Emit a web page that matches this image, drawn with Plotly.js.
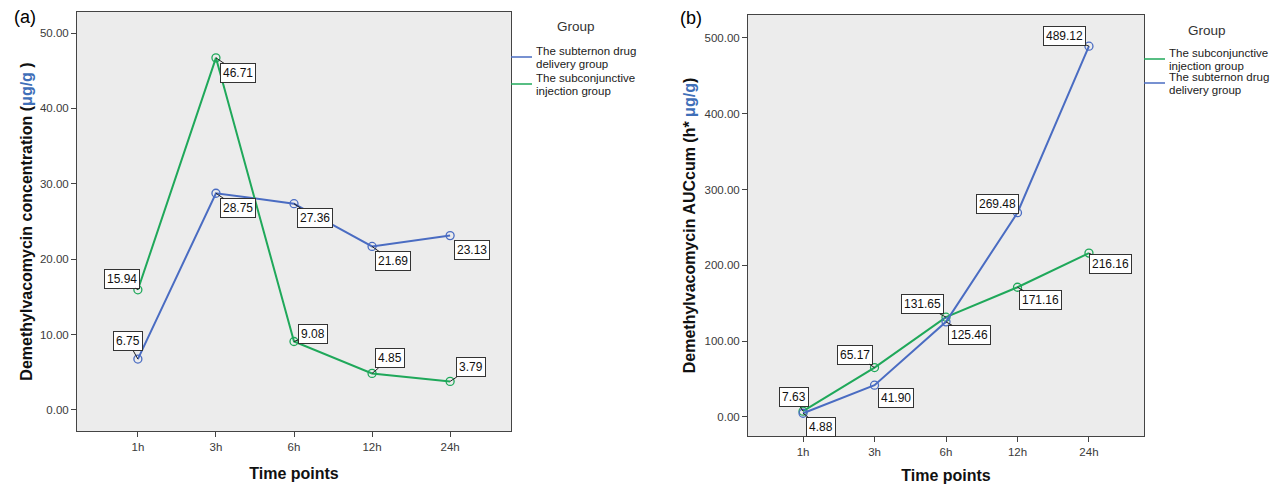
<!DOCTYPE html>
<html>
<head>
<meta charset="utf-8">
<script src="https://cdn.plot.ly/plotly-3.0.1.min.js"></script>
<style>html,body{margin:0;padding:0;background:#fff;}#chart{width:1275px;height:484px;}</style>
</head>
<body>
<div id="chart"></div>
<script>
// ---- data ----
const timePoints = ["1h", "3h", "6h", "12h", "24h"];
const concSubternon = [6.75, 28.75, 27.36, 21.69, 23.13];
const concSubconj = [15.94, 46.71, 9.08, 4.85, 3.79];
const aucSubconj = [7.63, 65.17, 131.65, 171.16, 216.16];
const aucSubternon = [4.88, 41.90, 125.46, 269.48, 489.12];
const yTicksA = [0, 10, 20, 30, 40, 50];
const yTicksB = [0, 100, 200, 300, 400, 500];
const nameSubternon = ["The subternon drug", "delivery group"];
const nameSubconj = ["The subconjunctive", "injection group"];

// label offsets (px) for annotations
const offConcSubternon = [[-10,-18],[22,15],[21,14],[21,15],[22,14]];
const offConcSubconj = [[-16,-11],[22,15],[19,-8],[18,-15],[21,-14]];
const offAucSubconj = [[-9,-14],[-20,-13],[-24,-13],[23,13],[22,11]];
const offAucSubternon = [[18,14],[21,13],[23,13],[-20,-9],[-24,-10]];

const BLUE = "#4a6cc2";
const GREEN = "#1fa85a";
const FONT = "Liberation Sans, Arial, sans-serif";
const W = 1275, H = 484;
const px = x => x / W;
const py = y => 1 - y / H;

function trace(y, color, xa, ya) {
  return {
    x: timePoints, y: y, xaxis: xa, yaxis: ya, type: "scatter", mode: "lines+markers",
    line: {color: color, width: 2},
    marker: {symbol: "circle-open", size: 8, color: color, line: {width: 1.3, color: color}},
    showlegend: false, hoverinfo: "x+y"
  };
}

const data = [
  trace(concSubternon, BLUE, "x", "y"),
  trace(concSubconj, GREEN, "x", "y"),
  trace(aucSubconj, GREEN, "x2", "y2"),
  trace(aucSubternon, BLUE, "x2", "y2")
];

const annotations = [];
function labels(vals, offs, xa, ya) {
  vals.forEach((v, i) => {
    annotations.push({
      x: timePoints[i], y: v, xref: xa, yref: ya,
      text: v.toFixed(2), showarrow: true, arrowhead: 0, arrowwidth: 1, arrowcolor: "#222",
      ax: offs[i][0], ay: offs[i][1], standoff: 0,
      font: {family: FONT, size: 12, color: "#111"},
      bgcolor: "#ffffff", bordercolor: "#333", borderwidth: 1, borderpad: 2
    });
  });
}
labels(concSubternon, offConcSubternon, "x", "y");
labels(concSubconj, offConcSubconj, "x", "y");
labels(aucSubconj, offAucSubconj, "x2", "y2");
labels(aucSubternon, offAucSubternon, "x2", "y2");

function paperText(x, y, text, size, opts) {
  annotations.push(Object.assign({
    x: px(x), y: py(y), xref: "paper", yref: "paper", text: text, showarrow: false,
    font: {family: FONT, size: size, color: "#1a1a1a"}, xanchor: "left", yanchor: "middle", align: "left"
  }, opts || {}));
}
function legendItem(x, yTop, lines) {
  paperText(x, yTop, lines[0], 11.5);
  paperText(x, yTop + 13, lines[1], 11.5);
}
// panel labels
paperText(12, 17, "(a)", 18, {font: {family: FONT, size: 18, color: "#000"}});
paperText(678, 18, "(b)", 18, {font: {family: FONT, size: 18, color: "#000"}});
// legends
paperText(576, 27, "Group", 13.5, {xanchor: "center", font: {family: FONT, size: 13.5, color: "#333"}});
legendItem(534, 51, nameSubternon);
legendItem(534, 78, nameSubconj);
paperText(1207, 31, "Group", 13.5, {xanchor: "center", font: {family: FONT, size: 13.5, color: "#333"}});
legendItem(1167, 53, nameSubconj);
legendItem(1167, 77, nameSubternon);

const shapes = [
  {type: "line", xref: "paper", yref: "paper", x0: px(511), x1: px(532), y0: py(57), y1: py(57), line: {color: BLUE, width: 1.5}},
  {type: "line", xref: "paper", yref: "paper", x0: px(511), x1: px(532), y0: py(84), y1: py(84), line: {color: GREEN, width: 1.5}},
  {type: "line", xref: "paper", yref: "paper", x0: px(1144), x1: px(1165), y0: py(59), y1: py(59), line: {color: GREEN, width: 1.5}},
  {type: "line", xref: "paper", yref: "paper", x0: px(1144), x1: px(1165), y0: py(83), y1: py(83), line: {color: BLUE, width: 1.5}}
];

const tickFont = {family: FONT, size: 11.5, color: "#3a3a3a"};
const titleFont = {family: FONT, size: 16, color: "#111", weight: "bold"};
const axCommon = {
  showgrid: false, zeroline: false, showline: true, mirror: true, linecolor: "#444", linewidth: 1,
  ticks: "outside", ticklen: 5, tickcolor: "#444", tickfont: tickFont, fixedrange: true
};

const layout = {
  width: W, height: H,
  margin: {l: 0, r: 0, t: 0, b: 0},
  paper_bgcolor: "#ffffff", plot_bgcolor: "#ececec",
  font: {family: FONT},
  xaxis: Object.assign({}, axCommon, {
    domain: [px(77), px(511)], anchor: "y", type: "category", range: [-0.78, 4.78],
    title: {text: "<b>Time points</b>", font: titleFont, standoff: 16}
  }),
  yaxis: Object.assign({}, axCommon, {
    domain: [py(431), py(12)], anchor: "x", range: [-2.79, 52.79],
    tickvals: yTicksA, ticktext: yTicksA.map(v => v.toFixed(2)),
    title: {text: "<b>Demethylvacomycin concentration (<span style=\"color:#3f6fb8\">μg/g</span> )</b>", font: titleFont, standoff: 3}
  }),
  xaxis2: Object.assign({}, axCommon, {
    domain: [px(748), px(1144)], anchor: "y2", type: "category", range: [-0.77, 4.77],
    title: {text: "<b>Time points</b>", font: titleFont, standoff: 16}
  }),
  yaxis2: Object.assign({}, axCommon, {
    domain: [py(436), py(15)], anchor: "x2", range: [-25.1, 530.3],
    tickvals: yTicksB, ticktext: yTicksB.map(v => v.toFixed(2)),
    title: {text: "<b>Demethylvacomycin AUCcum (h* <span style=\"color:#3f6fb8\">μg/g</span>)</b>", font: titleFont, standoff: 4}
  }),
  annotations: annotations,
  shapes: shapes
};

Plotly.newPlot("chart", data, layout, {displayModeBar: false, staticPlot: true});
</script>
</body>
</html>
